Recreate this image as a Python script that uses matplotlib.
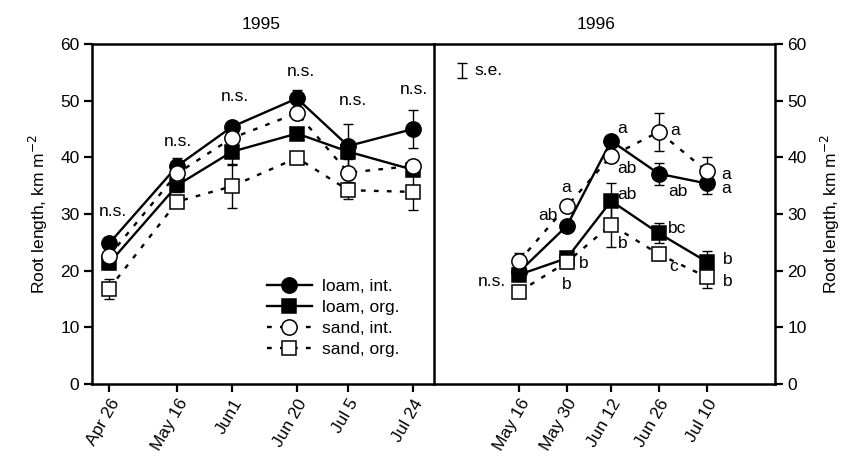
import matplotlib
matplotlib.use("Agg")
import matplotlib.pyplot as plt
import pandas as pd

plt.rcParams['font.family'] = ['Liberation Sans', 'DejaVu Sans']

# ---------------- data ----------------
dates_1995 = ["1995-04-26", "1995-05-16", "1995-06-01", "1995-06-20", "1995-07-05", "1995-07-24"]
labels_1995 = ["Apr 26", "May 16", "Jun1", "Jun 20", "Jul 5", "Jul 24"]
loam_int_95 = [24.8, 38.5, 45.4, 50.4, 42.0, 45.0]
loam_org_95 = [21.3, 35.1, 41.0, 44.2, 41.0, 37.8]
sand_int_95 = [22.6, 37.2, 43.4, 47.8, 37.3, 38.5]
sand_org_95 = [16.8, 32.2, 34.9, 39.9, 34.2, 33.9]
loam_int_95_se = [0.8, 1.3, 0.8, 1.5, 3.9, 3.4]
loam_org_95_se = [1.0, 1.2, 2.3, 1.0, 1.0, 1.0]
sand_int_95_se = [1.0, 1.0, 1.0, 1.0, 2.4, 1.0]
sand_org_95_se = [1.8, 1.0, 3.9, 1.0, 1.5, 3.2]
ns_95 = ["n.s.", "n.s.", "n.s.", "n.s.", "n.s.", "n.s."]

dates_1996 = ["1996-05-16", "1996-05-30", "1996-06-12", "1996-06-26", "1996-07-10"]
labels_1996 = ["May 16", "May 30", "Jun 12", "Jun 26", "Jul 10"]
loam_int_96 = [19.8, 27.9, 42.9, 37.1, 35.4]
loam_org_96 = [19.3, 22.2, 32.3, 26.6, 21.6]
sand_int_96 = [21.7, 31.4, 40.2, 44.5, 37.6]
sand_org_96 = [16.3, 21.5, 28.1, 22.9, 18.9]
loam_int_96_se = [1.0, 1.0, 1.0, 1.9, 1.9]
loam_org_96_se = [1.0, 1.0, 3.2, 1.8, 1.9]
sand_int_96_se = [1.5, 1.0, 1.0, 3.3, 2.4]
sand_org_96_se = [1.0, 1.0, 3.9, 1.0, 1.9]

# significance letters (1996): text, x (days since Apr 21), y, alignment
letters_96 = [("n.s.", 21.1, 18.0, "right"),
              ("ab", 33.3, 29.8, "center"), ("a", 38.9, 34.7, "center"),
              ("b", 43.9, 21.3, "center"), ("b", 38.9, 17.5, "center"),
              ("a", 55.2, 45.1, "center"), ("ab", 56.7, 38.1, "center"),
              ("ab", 56.7, 33.4, "center"), ("b", 55.3, 24.8, "center"),
              ("a", 70.8, 44.8, "center"), ("ab", 71.6, 33.9, "center"),
              ("bc", 71.3, 27.5, "center"), ("c", 70.2, 20.7, "center"),
              ("a", 85.7, 36.9, "center"), ("a", 85.7, 34.5, "center"),
              ("b", 86.3, 21.9, "center"), ("b", 86.3, 18.0, "center")]
ns_95_pos = [(6.1, 30.4), (25.1, 42.8), (41.9, 50.7), (61.2, 55.1), (76.5, 50.0), (94.1, 52.0)]


def days(dlist, year):
    start = pd.Timestamp(year, 4, 21)
    return [(pd.Timestamp(d) - start).days for d in dlist]


x95 = days(dates_1995, 1995)
x96 = days(dates_1996, 1996)

fig = plt.figure(figsize=(8.57, 4.68), dpi=100)
L, R, M = 92 / 857, 775 / 857, 434 / 857
B, T = 1 - 384 / 468, 1 - 44 / 468
ax1 = fig.add_axes([L, B, M - L, T - B])
ax2 = fig.add_axes([M, B, R - M, T - B])
ax2.set_facecolor('none')

dot = (0, (2.0, 3.5))
series_style = [
    dict(marker='o', mfc='black', ls='-', ms=11, label='loam, int.'),
    dict(marker='s', mfc='black', ls='-', ms=9.5, label='loam, org.'),
    dict(marker='o', mfc='white', ls=dot, ms=11, label='sand, int.'),
    dict(marker='s', mfc='white', ls=dot, ms=9.5, label='sand, org.'),
]


def draw(ax, x, ys, ses):
    handles = []
    for i, (y, se, st) in enumerate(zip(ys, ses, series_style)):
        ax.errorbar(x, y, yerr=se, fmt='none', ecolor='black', elinewidth=1.0,
                    capsize=3.6, capthick=1.0, zorder=2 + i)
        h, = ax.plot(x, y, color='black', lw=1.7, ls=st['ls'], marker=st['marker'],
                     ms=st['ms'], mfc=st['mfc'], mec='black', mew=1.1,
                     label=st['label'], zorder=3 + i)
        handles.append(h)
    return handles


hs = draw(ax1, x95, [loam_int_95, loam_org_95, sand_int_95, sand_org_95],
          [loam_int_95_se, loam_org_95_se, sand_int_95_se, sand_org_95_se])
draw(ax2, x96, [loam_int_96, loam_org_96, sand_int_96, sand_org_96],
     [loam_int_96_se, loam_org_96_se, sand_int_96_se, sand_org_96_se])

fs = 12.5
for ax in (ax1, ax2):
    ax.set_xlim(0, 100.1)
    ax.set_ylim(0, 60)
    ax.set_yticks(range(0, 61, 10))
    for s in ax.spines.values():
        s.set_linewidth(1.8)
    ax.tick_params(axis='both', direction='out', length=6, width=1.6, labelsize=fs, pad=3)

ax1.set_xticks(x95)
ax1.set_xticklabels(labels_1995, rotation=60, ha='right', rotation_mode='anchor')
ax2.set_xticks(x96)
ax2.set_xticklabels(labels_1996, rotation=60, ha='right', rotation_mode='anchor')

ax2.spines['left'].set_visible(False)
ax2.yaxis.tick_right()
ax2.yaxis.set_label_position('right')
ax2.tick_params(axis='y', which='both', left=False, right=True)

ylab = 'Root length, km m$^{-2}$'
ax1.set_ylabel(ylab, fontsize=fs, labelpad=7)
ax2.set_ylabel(ylab, fontsize=fs, labelpad=9)

ax1.set_title('1995', fontsize=fs, pad=11, x=0.494)
ax2.set_title('1996', fontsize=fs, pad=11, x=0.475)

for txt, (xx, yy) in zip(ns_95, ns_95_pos):
    ax1.text(xx, yy, txt, ha='center', va='center', fontsize=fs, zorder=10)

for txt, xx, yy, ha in letters_96:
    ax2.text(xx, yy, txt, ha=ha, va='center', fontsize=fs, zorder=10)

# s.e. scale bar
ax2.errorbar([8.2], [55.3], yerr=[1.3], fmt='none', ecolor='black', elinewidth=1.0,
             capsize=3.6, capthick=1.0)
ax2.text(12.0, 55.3, 's.e.', ha='left', va='center', fontsize=fs)

leg = ax1.legend(handles=hs, loc='lower left', bbox_to_anchor=(0.49, 0.058),
                 frameon=False, fontsize=fs, handlelength=2.6, handletextpad=0.57,
                 labelspacing=0.34, borderaxespad=0)

fig.savefig('out.png', dpi=100)
